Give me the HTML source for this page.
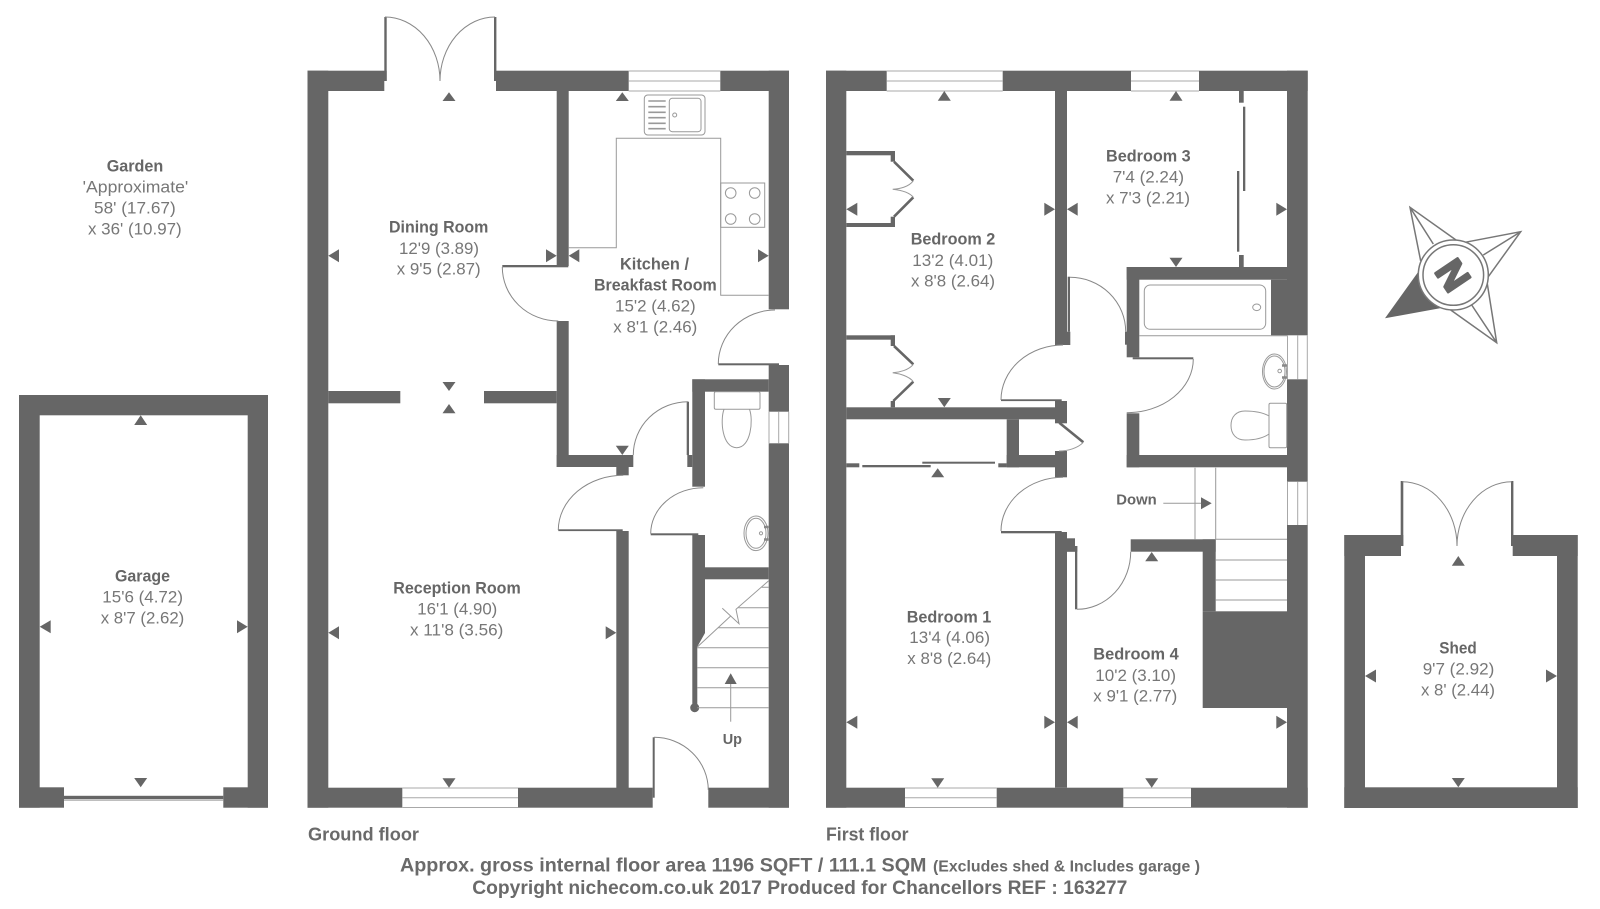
<!DOCTYPE html>
<html lang="en">
<head>
<meta charset="utf-8">
<title>Floor plan</title>
<style>
html,body{margin:0;padding:0;background:#fff;width:1600px;height:909px;overflow:hidden}
svg{display:block;filter:blur(.35px)}
text{font-family:"Liberation Sans",sans-serif;font-size:17px;fill:#777}
text.b{font-weight:700;fill:#666}
text.f{font-weight:700;fill:#6a6a6a;font-size:19px}
text.g{font-weight:700;fill:#6a6a6a;font-size:18px}
text.s{font-weight:700;fill:#6a6a6a;font-size:15.5px}
.w{fill:#666}
.l{fill:none;stroke:#a8a8a8;stroke-width:1}
.d{fill:none;stroke:#888;stroke-width:1}
.t{fill:none;stroke:#999;stroke-width:1}
.c{fill:none;stroke:#666;stroke-width:2.6}
</style>
</head>
<body>
<svg width="1600" height="909" viewBox="0 0 1600 909" xmlns="http://www.w3.org/2000/svg">
<rect width="1600" height="909" fill="#fff"/>

<!-- GARAGE -->
<g class="w">
<rect x="19" y="395" width="249" height="20.3"/>
<rect x="19" y="395" width="20.7" height="412.7"/>
<rect x="247.7" y="395" width="20.3" height="412.7"/>
<rect x="19" y="787.3" width="45" height="20.4"/>
<rect x="223.3" y="787.3" width="44.7" height="20.4"/>
<rect x="64" y="795.8" width="159.3" height="3.4"/>
</g>
<path class="l" d="M64 800.3H223.3"/>

<!-- GROUND FLOOR WALLS -->
<g class="w">
<rect x="307.5" y="70.7" width="20.8" height="737"/>
<rect x="307.5" y="70.7" width="79.2" height="10.3"/>
<rect x="307.5" y="81" width="76.8" height="10"/>
<rect x="494" y="70.7" width="134.7" height="10.3"/>
<rect x="496" y="81" width="132.7" height="10"/>
<rect x="384.3" y="17" width="2.4" height="64"/>
<rect x="494" y="17" width="2.4" height="64"/>
<rect x="720.3" y="70.7" width="68.7" height="20.3"/>
<rect x="768.7" y="70.7" width="20.3" height="238.6"/>
<rect x="768.7" y="365" width="20.3" height="46.7"/>
<rect x="768.7" y="443.3" width="20.3" height="364.4"/>
<rect x="718.3" y="363.3" width="60.7" height="2"/>
<rect x="556.7" y="91" width="12" height="175"/>
<rect x="556.7" y="321" width="12" height="146"/>
<rect x="502.3" y="265" width="66" height="2.3"/>
<rect x="556.7" y="455" width="76.6" height="12"/>
<rect x="616.3" y="467" width="12.4" height="8.3"/>
<rect x="616.3" y="531" width="12.4" height="257"/>
<rect x="558.3" y="529.3" width="64.4" height="1.8"/>
<rect x="307.5" y="787.7" width="94.8" height="20"/>
<rect x="518" y="787.7" width="134.7" height="20"/>
<rect x="652.7" y="737.3" width="2" height="60.4"/>
<rect x="708.3" y="787.7" width="80.7" height="20"/>
<rect x="328.3" y="391" width="72" height="12.3"/>
<rect x="484" y="391" width="72.7" height="12.3"/>
<rect x="692.3" y="379.3" width="76.4" height="12.4"/>
<rect x="692.3" y="379.3" width="12.7" height="107.4"/>
<rect x="687.3" y="455" width="5" height="12"/>
<rect x="686.7" y="401.7" width="2.3" height="53.3"/>
<rect x="650.7" y="533.3" width="47.6" height="2"/>
<polygon points="692.3,535 705,535 705,633 697.3,646.7 697.3,707.7 692.3,707.7"/>
<rect x="705" y="567.3" width="63.7" height="12"/>
<circle cx="694.7" cy="707.7" r="4.5"/>
</g>
<!-- ground windows -->
<path class="l" d="M628.7 71H720.3M628.7 81H720.3M628.7 91H720.3"/>
<path class="l" d="M402.3 788H518M402.3 797.7H518M402.3 807.5H518"/>
<path class="l" d="M769 411.7V443.3M778.7 411.7V443.3M788.7 411.7V443.3"/>
<!-- ground door arcs -->
<path class="d" d="M385 17A55 64 0 0 1 440 81"/>
<path class="d" d="M495 17A55 64 0 0 0 440 81"/>
<path class="d" d="M502.3 267A56 54 0 0 0 558.3 321"/>
<path class="d" d="M775 310A57 54 0 0 0 718.3 364"/>
<path class="d" d="M688 401.7A55 53.3 0 0 0 633.3 455"/>
<path class="d" d="M623.3 475.3A65 55 0 0 0 558.3 530"/>
<path class="d" d="M703.3 487.7A52.6 46 0 0 0 650.7 533.8"/>
<path class="d" d="M654 737.3A54.3 53 0 0 1 708.3 790"/>
<!-- kitchen fittings -->
<path class="t" d="M568.7 247.7H616.3V138.3H720.7V295.3H768.7"/>
<rect class="t" x="720.7" y="183" width="44" height="44.3"/>
<circle class="t" cx="730.7" cy="193" r="5.3"/>
<circle class="t" cx="754.7" cy="193" r="5.3"/>
<circle class="t" cx="730.7" cy="219" r="5.3"/>
<circle class="t" cx="754.7" cy="219" r="5.3"/>
<rect class="t" x="644.3" y="95" width="60.7" height="40" rx="3.5"/>
<rect class="t" x="669.3" y="98.3" width="31.7" height="33.4" rx="3"/>
<path d="M648.3 101H665.7M648.3 106.7H665.7M648.3 112.3H665.7M648.3 117.7H665.7M648.3 123.3H665.7M648.3 128.7H665.7" fill="none" stroke="#999" stroke-width="1.6"/>
<circle class="t" cx="674.7" cy="115" r="2"/>
<!-- wc ground -->
<rect class="t" x="714.3" y="391.7" width="45.7" height="17.6" rx="1.5"/>
<path class="t" d="M724 409.3C720 420 722 447.7 736.7 447.7C751 447.7 753.5 420 749.5 409.3"/>
<ellipse class="t" cx="756" cy="533.3" rx="12" ry="17.3"/>
<ellipse class="t" cx="756" cy="533.3" rx="10" ry="15"/>
<circle class="t" cx="761" cy="533.3" r="1.6"/>
<path d="M764 527H768.5M764 539.5H768.5" stroke="#888" stroke-width="2.4" fill="none"/>
<!-- ground stairs -->
<path class="t" d="M697.3 647L730.7 616L722.3 608.3L739 623.7L736 609.3L768.7 580.7"/>
<path class="t" d="M761.7 587.3H768.7M738.3 607.7H768.7M718.3 627.7H768.7M697.3 647.7H768.7M697.3 667.7H768.7M697.3 687.7H768.7M697.3 707.7H768.7"/>
<path class="t" d="M730.7 684V721.7"/>

<!-- FIRST FLOOR WALLS -->
<g class="w">
<rect x="826" y="70.7" width="20.3" height="737"/>
<rect x="1287" y="70.7" width="20.7" height="264.6"/>
<rect x="1287" y="379.3" width="20.7" height="102.4"/>
<rect x="1287" y="525" width="20.7" height="282.7"/>
<rect x="826" y="70.7" width="60.7" height="20.3"/>
<rect x="1002.7" y="70.7" width="128.3" height="20.3"/>
<rect x="1199" y="70.7" width="108.7" height="20.3"/>
<rect x="826" y="787.7" width="79" height="20"/>
<rect x="996.7" y="787.7" width="126.6" height="20"/>
<rect x="1191" y="787.7" width="116.7" height="20"/>
<rect x="1055" y="91" width="12" height="254"/>
<rect x="1060" y="331.7" width="10.3" height="13.3"/>
<rect x="1067.7" y="276.7" width="2.3" height="55"/>
<rect x="1001" y="399.3" width="60.7" height="1.8"/>
<rect x="1055" y="401" width="12" height="22.3"/>
<rect x="846.3" y="407.3" width="220.7" height="12"/>
<rect x="1126.7" y="267" width="12.6" height="90.3"/>
<rect x="1126.7" y="267" width="160.3" height="12.7"/>
<rect x="1271" y="279.7" width="16" height="55.6"/>
<rect x="1125" y="331.7" width="2" height="13"/>
<rect x="1132.7" y="357.3" width="60.6" height="2"/>
<rect x="1126.7" y="413.3" width="12.6" height="54"/>
<rect x="1126.7" y="455" width="160.3" height="12.3"/>
<!-- closets -->
<rect x="846.3" y="151" width="48.7" height="4.3"/>
<rect x="890.7" y="151" width="4.3" height="10.7"/>
<rect x="846.3" y="223" width="48.7" height="4"/>
<rect x="890.7" y="216.7" width="4.3" height="10.3"/>
<rect x="846.3" y="335.3" width="48.7" height="4.4"/>
<rect x="890.7" y="335.3" width="4.3" height="10.7"/>
<rect x="890.7" y="401" width="4.3" height="6.3"/>
<!-- wardrobe BR3 -->
<rect x="1239" y="91" width="4.7" height="11.7"/>
<rect x="1239" y="255" width="4.7" height="12"/>
<rect x="1243" y="106.7" width="2.3" height="84.3"/>
<rect x="1237" y="171" width="2.3" height="80.7"/>
<!-- cupboard -->
<rect x="1006.7" y="419.3" width="12.3" height="48"/>
<rect x="1006.7" y="455" width="60.3" height="12.3"/>
<rect x="1055" y="451" width="12" height="26.3"/>
<rect x="846.3" y="463.3" width="13" height="4"/>
<rect x="998.3" y="463.3" width="8.4" height="4"/>
<rect x="862.3" y="465" width="68.4" height="2.3"/>
<rect x="922.3" y="461.7" width="72.7" height="2"/>
<!-- BR1 door & wall -->
<rect x="1001" y="531" width="60.7" height="2.3"/>
<rect x="1055" y="532" width="12" height="255.7"/>
<rect x="1060" y="533" width="7" height="13"/>
<rect x="1067" y="538.3" width="8" height="13.4"/>
<rect x="1067" y="546" width="10.3" height="5.7"/>
<rect x="1075" y="546" width="2.3" height="63.3"/>
<!-- BR4 top -->
<rect x="1130.7" y="539.3" width="85" height="12.4"/>
<rect x="1202.7" y="539.3" width="13" height="72"/>
<rect x="1202.7" y="611.3" width="84.3" height="96.7"/>
</g>
<path class="c" d="M894 161.7L913.3 180.7M913.3 197.3L894 216.7M894 346L913.3 364.3M913.3 381.7L893.3 401M1059.3 422.7L1083.3 442.3"/>
<path class="t" d="M913.3 180.7C909 187 899 189 892.7 189.3C899 190 909 192 913.3 197.3"/>
<path class="t" d="M913.3 364.3C909 370 899 372.5 892.7 372.7C899 373.5 909 376 913.3 381.7"/>
<path class="t" d="M1083.3 442.3C1078 448 1068 451 1059 451"/>
<!-- first floor windows -->
<path class="l" d="M886.7 71H1002.7M886.7 81H1002.7M886.7 91H1002.7M1131 71H1199M1131 81H1199M1131 91H1199"/>
<path class="l" d="M905 788H996.7M905 797.7H996.7M905 807.5H996.7M1123.3 788H1191M1123.3 797.7H1191M1123.3 807.5H1191"/>
<path class="l" d="M1287.5 335.3V379.3M1297.7 335.3V379.3M1307.3 335.3V379.3M1287.5 481.7V525M1297.7 481.7V525M1307.3 481.7V525"/>
<!-- first door arcs -->
<path class="d" d="M1063 345A62 55 0 0 0 1001 400"/>
<path class="d" d="M1070 277.3A55.7 54.4 0 0 1 1125.7 331.7"/>
<path class="d" d="M1193.3 359A66.6 53.7 0 0 1 1126.7 412.7"/>
<path class="d" d="M1063 477.3A62 53.7 0 0 0 1001 531"/>
<path class="d" d="M1077 609.3A53.7 57.6 0 0 0 1130.7 551.7"/>
<!-- bathroom -->
<path class="t" d="M1139.3 335.7H1287"/>
<rect class="t" x="1144.3" y="285" width="121.4" height="44.3" rx="6"/>
<ellipse class="t" cx="1256.7" cy="307.3" rx="4" ry="3.3"/>
<ellipse class="t" cx="1274.5" cy="371.5" rx="12" ry="17.5"/>
<ellipse class="t" cx="1274.5" cy="371.5" rx="10.5" ry="15.5"/>
<circle class="t" cx="1279.7" cy="371" r="1.8"/>
<path d="M1282 365.5H1287M1282 377.5H1287" stroke="#888" stroke-width="2.4" fill="none"/>
<rect class="t" x="1269" y="403.3" width="17.7" height="44.4" rx="1.5"/>
<path class="t" d="M1269 416C1262 412 1252 411 1245 411C1236 411 1231 417 1231 425.5C1231 434 1236 440 1245 440C1253 440 1262 439 1269 434"/>
<!-- first stairs -->
<path class="t" d="M1195 467.7V539.3M1215.7 467.7V539.3M1215.7 539.3H1287M1215.7 560H1287M1215.7 580H1287M1215.7 600H1287M1163.3 503.3H1201"/>

<!-- SHED -->
<g class="w">
<rect x="1344.3" y="535" width="20.7" height="273"/>
<rect x="1557" y="535" width="20.7" height="273"/>
<rect x="1344.3" y="787.3" width="233.4" height="20.7"/>
<rect x="1344.3" y="535" width="59" height="11"/>
<rect x="1344.3" y="546" width="56.7" height="10"/>
<rect x="1511" y="535" width="66.7" height="11"/>
<rect x="1512.7" y="546" width="65" height="10"/>
<rect x="1400.7" y="481" width="2.6" height="65"/>
<rect x="1511" y="481" width="2.4" height="65"/>
</g>
<path class="d" d="M1402 481.7A55 64.3 0 0 1 1457 546"/>
<path class="d" d="M1512 481.7A55 64.3 0 0 0 1457 546"/>

<!-- DIMENSION TRIANGLES -->
<g class="w">
<polygon points="449,92.3 442.5,101 455.5,101"/>
<polygon points="328.3,255.7 339,249.2 339,262.2"/>
<polygon points="556.7,255.7 546,249.2 546,262.2"/>
<polygon points="568.7,255.7 579.3,249.2 579.3,262.2"/>
<polygon points="768.7,255.7 758,249.2 758,262.2"/>
<polygon points="622.3,92.3 615.8,101 628.8,101"/>
<polygon points="622.3,455 615.8,445.7 628.8,445.7"/>
<polygon points="449,391 442.5,382 455.5,382"/>
<polygon points="449,404 442.5,413.3 455.5,413.3"/>
<polygon points="328.3,632.7 339,626.2 339,639.2"/>
<polygon points="616.3,632.7 605.7,626.2 605.7,639.2"/>
<polygon points="449,787.7 442.5,778.3 455.5,778.3"/>
<polygon points="730.7,673.3 724.7,684 736.7,684"/>
<polygon points="140.7,415.3 134.2,425 147.2,425"/>
<polygon points="39.7,626.7 50.7,620.2 50.7,633.2"/>
<polygon points="247.7,626.7 237,620.2 237,633.2"/>
<polygon points="140.7,787.3 134.2,778 147.2,778"/>
<polygon points="944.3,91 937.8,100.7 950.8,100.7"/>
<polygon points="846.3,209.3 857.3,202.8 857.3,215.8"/>
<polygon points="1055,209.3 1044.3,202.8 1044.3,215.8"/>
<polygon points="944.3,407.3 937.8,398 950.8,398"/>
<polygon points="1176,91 1169.5,100.7 1182.5,100.7"/>
<polygon points="1067,209.3 1077.7,202.8 1077.7,215.8"/>
<polygon points="1287,209.3 1276.3,202.8 1276.3,215.8"/>
<polygon points="1176,267 1169.5,257.7 1182.5,257.7"/>
<polygon points="937.7,468.3 931.2,477.3 944.2,477.3"/>
<polygon points="846.3,722.3 857.3,715.8 857.3,728.8"/>
<polygon points="1055,722.3 1044.3,715.8 1044.3,728.8"/>
<polygon points="937.7,787.7 931.2,778.3 944.2,778.3"/>
<polygon points="1151.7,552 1145.2,561.3 1158.2,561.3"/>
<polygon points="1067,722.3 1077.7,715.8 1077.7,728.8"/>
<polygon points="1287,722.3 1276.3,715.8 1276.3,728.8"/>
<polygon points="1151.7,787.7 1145.2,778.3 1158.2,778.3"/>
<polygon points="1211.7,503.3 1201,497.3 1201,509.3"/>
<polygon points="1458.3,556 1451.8,565.7 1464.8,565.7"/>
<polygon points="1365,676 1376,669.5 1376,682.5"/>
<polygon points="1557,676 1546,669.5 1546,682.5"/>
<polygon points="1458.3,787.3 1451.8,778 1464.8,778"/>
</g>

<!-- COMPASS -->
<g>
<polygon class="w" points="1385,318.3 1418.3,271.7 1440,308.3"/>
<path fill="none" stroke="#777" stroke-width="1.5" d="M1420.7 261L1410 207.3L1456 240M1410 207.3L1433.3 244M1465 242.3L1520.7 231.7L1488.3 276.7M1520.7 231.7L1483.3 255M1486.7 280L1496.7 342.7L1450.7 310M1496.7 342.7L1471.7 305"/>
<circle cx="1453.3" cy="275" r="35" fill="#fff" stroke="#777" stroke-width="1.5"/>
<circle cx="1453.3" cy="275" r="30.3" fill="#fff" stroke="#777" stroke-width="1.5"/>
<text transform="translate(1453.3 275) rotate(56)" x="0" y="14" text-anchor="middle" style="font-size:39px;font-weight:700;fill:#666;stroke:#666;stroke-width:2.4px;stroke-linejoin:round">N</text>
</g>

<!-- LABELS -->
<text class="b" x="106.7" y="171.7" textLength="56.6" lengthAdjust="spacingAndGlyphs">Garden</text>
<text x="82.7" y="192.3" textLength="105.6" lengthAdjust="spacingAndGlyphs">'Approximate'</text>
<text x="94" y="213.3" textLength="81.7" lengthAdjust="spacingAndGlyphs">58' (17.67)</text>
<text x="88" y="234.3" textLength="93.7" lengthAdjust="spacingAndGlyphs">x 36' (10.97)</text>

<text class="b" x="115" y="581.3" textLength="55" lengthAdjust="spacingAndGlyphs">Garage</text>
<text x="102.3" y="602.7" textLength="80.7" lengthAdjust="spacingAndGlyphs">15'6 (4.72)</text>
<text x="100.7" y="623.7" textLength="83.6" lengthAdjust="spacingAndGlyphs">x 8'7 (2.62)</text>

<text class="b" x="389" y="232.7" textLength="99.3" lengthAdjust="spacingAndGlyphs">Dining Room</text>
<text x="399" y="254" textLength="80" lengthAdjust="spacingAndGlyphs">12'9 (3.89)</text>
<text x="396.7" y="274.7" textLength="84" lengthAdjust="spacingAndGlyphs">x 9'5 (2.87)</text>

<text class="b" x="620" y="269.3" textLength="69" lengthAdjust="spacingAndGlyphs">Kitchen /</text>
<text class="b" x="594" y="290.7" textLength="122.7" lengthAdjust="spacingAndGlyphs">Breakfast Room</text>
<text x="615" y="311.3" textLength="80.7" lengthAdjust="spacingAndGlyphs">15'2 (4.62)</text>
<text x="613.3" y="332.3" textLength="84" lengthAdjust="spacingAndGlyphs">x 8'1 (2.46)</text>

<text class="b" x="393.3" y="593.3" textLength="127.4" lengthAdjust="spacingAndGlyphs">Reception Room</text>
<text x="417.3" y="614.3" textLength="80" lengthAdjust="spacingAndGlyphs">16'1 (4.90)</text>
<text x="410" y="635.3" textLength="93.3" lengthAdjust="spacingAndGlyphs">x 11'8 (3.56)</text>

<text class="b" x="722.7" y="744" textLength="19.3" lengthAdjust="spacingAndGlyphs" style="font-size:15px">Up</text>
<text class="b" x="1116.3" y="504.6" textLength="40.4" lengthAdjust="spacingAndGlyphs" style="font-size:15px">Down</text>

<text class="b" x="910.7" y="244.7" textLength="84.6" lengthAdjust="spacingAndGlyphs">Bedroom 2</text>
<text x="912.3" y="266" textLength="81" lengthAdjust="spacingAndGlyphs">13'2 (4.01)</text>
<text x="911" y="286.7" textLength="84" lengthAdjust="spacingAndGlyphs">x 8'8 (2.64)</text>

<text class="b" x="1106" y="161.4" textLength="84.7" lengthAdjust="spacingAndGlyphs">Bedroom 3</text>
<text x="1112.7" y="182.7" textLength="71.3" lengthAdjust="spacingAndGlyphs">7'4 (2.24)</text>
<text x="1106" y="203.4" textLength="84" lengthAdjust="spacingAndGlyphs">x 7'3 (2.21)</text>

<text class="b" x="906.7" y="622.4" textLength="84.6" lengthAdjust="spacingAndGlyphs">Bedroom 1</text>
<text x="909.3" y="642.9" textLength="80.7" lengthAdjust="spacingAndGlyphs">13'4 (4.06)</text>
<text x="907.3" y="663.9" textLength="84" lengthAdjust="spacingAndGlyphs">x 8'8 (2.64)</text>

<text class="b" x="1093.3" y="659.7" textLength="85.4" lengthAdjust="spacingAndGlyphs">Bedroom 4</text>
<text x="1095.3" y="681" textLength="80.7" lengthAdjust="spacingAndGlyphs">10'2 (3.10)</text>
<text x="1093.3" y="701.7" textLength="84" lengthAdjust="spacingAndGlyphs">x 9'1 (2.77)</text>

<text class="b" x="1439.3" y="653.4" textLength="37.4" lengthAdjust="spacingAndGlyphs">Shed</text>
<text x="1422.7" y="674.4" textLength="71.6" lengthAdjust="spacingAndGlyphs">9'7 (2.92)</text>
<text x="1421" y="695.4" textLength="74" lengthAdjust="spacingAndGlyphs">x 8' (2.44)</text>

<text class="g" x="308" y="840.7" textLength="111" lengthAdjust="spacingAndGlyphs">Ground floor</text>
<text class="g" x="826" y="840.7" textLength="82.5" lengthAdjust="spacingAndGlyphs">First floor</text>
<text class="f" x="400" y="871.7" textLength="526.5" lengthAdjust="spacingAndGlyphs">Approx. gross internal floor area 1196 SQFT / 111.1 SQM</text>
<text class="s" x="933" y="871.7" textLength="267" lengthAdjust="spacingAndGlyphs">(Excludes shed &amp; Includes garage )</text>
<text class="f" x="472.3" y="894" textLength="655" lengthAdjust="spacingAndGlyphs">Copyright nichecom.co.uk 2017 Produced for Chancellors REF : 163277</text>
</svg>
</body>
</html>
